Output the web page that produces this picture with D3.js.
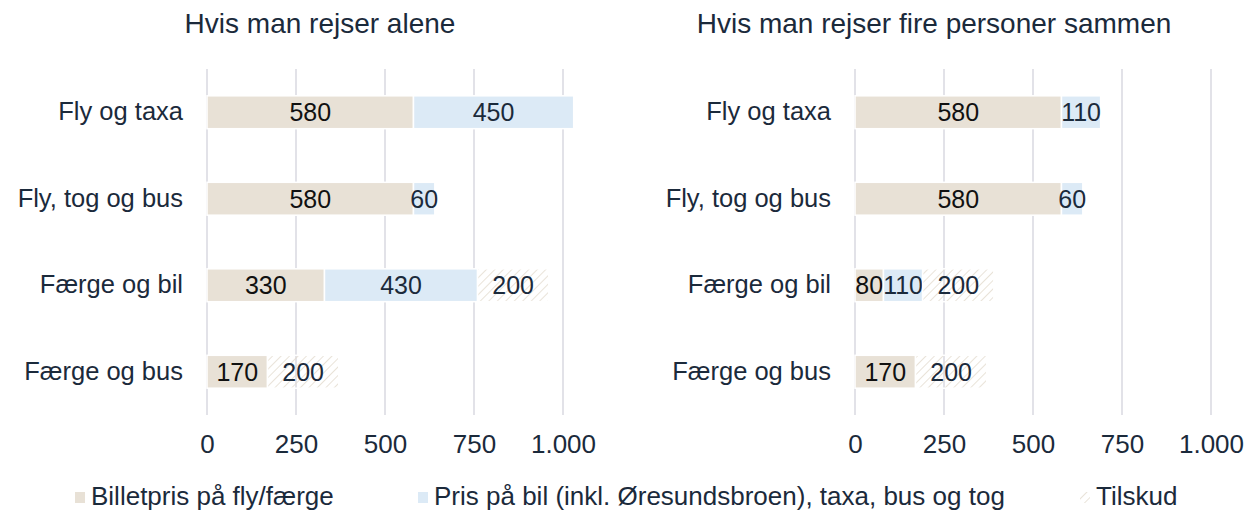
<!DOCTYPE html>
<html>
<head>
<meta charset="utf-8">
<script src="https://cdn.jsdelivr.net/npm/d3@7"></script>
<style>
  body { margin: 0; background: #fff; }
  text { font-family: "Liberation Sans", Arial, sans-serif; }
</style>
</head>
<body>
<div id="vis"></div>
<script>
var categories = ['Fly og taxa', 'Fly, tog og bus', 'Færge og bil', 'Færge og bus'];
var seriesNames = ['Billetpris på fly/færge', 'Pris på bil (inkl. Øresundsbroen), taxa, bus og tog', 'Tilskud'];
var aloneTicket = [580, 580, 330, 170];
var aloneCar = [450, 60, 430, 0];
var aloneSubsidy = [0, 0, 200, 200];
var fourTicket = [580, 580, 80, 170];
var fourCar = [110, 60, 110, 0];
var fourSubsidy = [0, 0, 200, 200];
var panelTitles = ['Hvis man rejser alene', 'Hvis man rejser fire personer sammen'];
var tickValues = [0, 250, 500, 750, 1000];

var width = 1252, height = 514;
var ink = '#1b2a3b';
var colors = ['#e8e1d6', '#dceaf6', 'url(#hatch)'];

var svg = d3.select('#vis').append('svg')
    .attr('width', width)
    .attr('height', height);

var defs = svg.append('defs');
var pat = defs.append('pattern')
    .attr('id', 'hatch')
    .attr('patternUnits', 'userSpaceOnUse')
    .attr('width', 6).attr('height', 6)
    .attr('patternTransform', 'rotate(45)');
pat.append('line')
    .attr('x1', 0).attr('y1', 0).attr('x2', 0).attr('y2', 6)
    .attr('stroke', '#e4dccf').attr('stroke-width', 1.6);

var panels = [
    { left: 207, right: 563, title: panelTitles[0], titleX: 320, data: [aloneTicket, aloneCar, aloneSubsidy] },
    { left: 855, right: 1211, title: panelTitles[1], titleX: 934, data: [fourTicket, fourCar, fourSubsidy] }
];

var yScale = d3.scaleBand()
    .domain(categories)
    .range([69, 415])
    .paddingInner(0.62)
    .paddingOuter(0.31);

panels.forEach(function(p) {
    var x = d3.scaleLinear().domain([0, 1000]).range([p.left, p.right]);
    var g = svg.append('g');

    svg.append('text')
        .attr('x', p.titleX).attr('y', 33)
        .attr('text-anchor', 'middle')
        .attr('fill', ink)
        .style('font-size', '28px')
        .text(p.title);

    // gridlines
    g.selectAll('.grid').data(tickValues).enter().append('line')
        .attr('x1', function(d) { return x(d); })
        .attr('x2', function(d) { return x(d); })
        .attr('y1', 69).attr('y2', 415)
        .attr('stroke', '#d9d9e1').attr('stroke-width', 1.5);

    var xAxis = d3.axisBottom(x)
        .tickValues(tickValues)
        .tickSize(0)
        .tickPadding(0)
        .tickFormat(function(d) { return d3.format(',')(d).replace(',', '.'); });
    var ax = svg.append('g')
        .attr('transform', 'translate(0,' + 453 + ')')
        .call(xAxis);
    ax.select('.domain').remove();
    ax.selectAll('text')
        .attr('fill', ink)
        .attr('y', 0)
        .attr('dy', 0)
        .style('font-size', '26px');

    var yAxis = d3.axisLeft(yScale).tickSize(0).tickPadding(24);
    var ay = svg.append('g')
        .attr('transform', 'translate(' + p.left + ',0)')
        .call(yAxis);
    ay.select('.domain').remove();
    ay.selectAll('text')
        .attr('fill', ink)
        .style('font-size', '25.5px');

    categories.forEach(function(cat, i) {
        var start = 0;
        p.data.forEach(function(series, s) {
            var v = series[i];
            if (!v) return;
            var x0 = x(start), x1 = x(start + v);
            g.append('rect')
                .attr('x', x0).attr('y', yScale(cat))
                .attr('width', x1 - x0).attr('height', yScale.bandwidth())
                .attr('fill', colors[s])
                .attr('stroke', '#fff').attr('stroke-width', 1.5);
            g.append('text')
                .attr('x', (x0 + x1) / 2)
                .attr('y', yScale(cat) + yScale.bandwidth() / 2)
                .attr('dy', '0.35em')
                .attr('text-anchor', 'middle')
                .attr('fill', s === 0 ? '#111' : ink)
                .style('font-size', '25px')
                .text(v);
            start += v;
        });
    });
});

// legend
var legendX = [75, 418, 1080];
var lg = svg.append('g');
seriesNames.forEach(function(name, i) {
    lg.append('rect')
        .attr('x', legendX[i]).attr('y', 492)
        .attr('width', 10).attr('height', 11)
        .attr('fill', colors[i]);
    lg.append('text')
        .attr('x', legendX[i] + 16).attr('y', 505)
        .attr('fill', ink)
        .style('font-size', '26px')
        .text(name);
});
</script>
</body>
</html>
